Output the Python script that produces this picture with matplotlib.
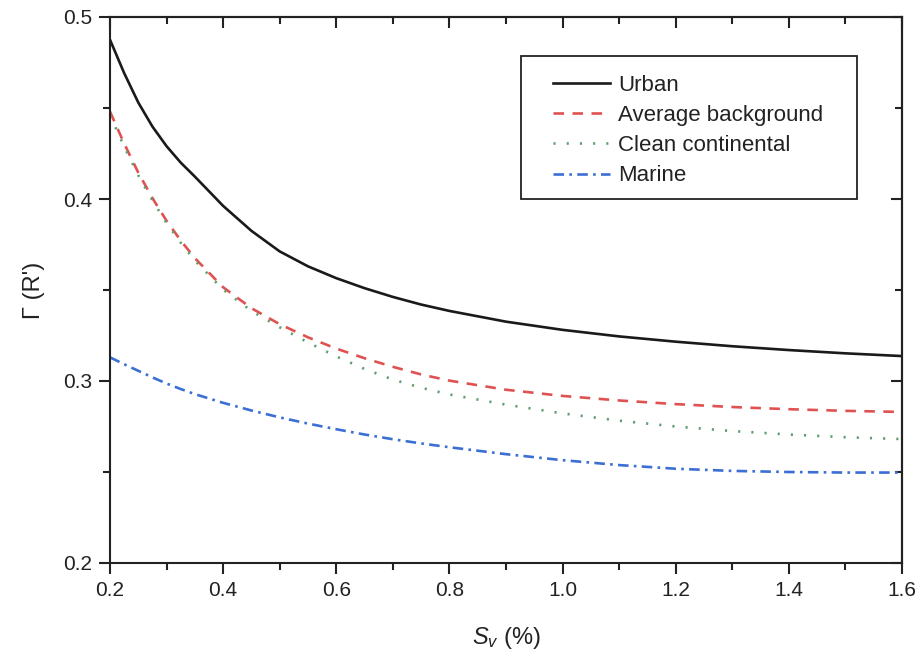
import matplotlib
matplotlib.use("Agg")
import matplotlib.pyplot as plt
from matplotlib.patches import Rectangle
from matplotlib.ticker import MultipleLocator, FormatStrFormatter

plt.rcParams['font.family'] = ['Liberation Sans', 'DejaVu Sans']
plt.rcParams['mathtext.fontset'] = 'custom'
plt.rcParams['mathtext.rm'] = 'Liberation Sans'
plt.rcParams['mathtext.it'] = 'Liberation Sans:italic'

# Supersaturation (%)
sv = [0.2, 0.225, 0.25, 0.275, 0.3, 0.325, 0.35, 0.4, 0.45, 0.5, 0.55, 0.6,
      0.65, 0.7, 0.75, 0.8, 0.9, 1.0, 1.1, 1.2, 1.3, 1.4, 1.5, 1.6]

urban = [0.4875, 0.4692, 0.4530, 0.4398, 0.4290, 0.4200, 0.4123, 0.3962,
         0.3825, 0.3712, 0.3630, 0.3565, 0.3510, 0.3462, 0.3420, 0.3385,
         0.3326, 0.3281, 0.3245, 0.3216, 0.3191, 0.3170, 0.3152, 0.3137]
average_bg = [0.448, 0.4305, 0.4145, 0.4005, 0.3880, 0.3772, 0.3675, 0.3515,
              0.3400, 0.3312, 0.3240, 0.3178, 0.3125, 0.3078, 0.3036, 0.3002,
              0.2952, 0.2918, 0.2893, 0.2873, 0.2857, 0.2845, 0.2836, 0.2830]
clean_cont = [0.446, 0.4288, 0.4130, 0.3992, 0.3868, 0.3760, 0.3662, 0.3502,
              0.3385, 0.3295, 0.3212, 0.3135, 0.3066, 0.3008, 0.2963, 0.2926,
              0.2870, 0.2822, 0.2782, 0.2750, 0.2725, 0.2706, 0.2691, 0.2681]
marine = [0.3130, 0.3092, 0.3056, 0.3020, 0.2986, 0.2956, 0.2928, 0.2880,
          0.2838, 0.2800, 0.2766, 0.2735, 0.2706, 0.2680, 0.2657, 0.2636,
          0.2598, 0.2565, 0.2538, 0.2518, 0.2506, 0.2500, 0.2497, 0.2497]

labels = ["Urban", "Average background", "Clean continental", "Marine"]

fig = plt.figure(figsize=(9.23, 6.58), dpi=100)
ax = fig.add_axes([110 / 923, 1 - 563 / 658, 792 / 923, 546 / 658])

lw = 1.9
ax.plot(sv, urban, color='#1a1a1a', lw=lw, label=labels[0])
ax.plot(sv, average_bg, color='#e05252', lw=lw, ls=(0, (4, 3.2)), label=labels[1])
ax.plot(sv, clean_cont, color='#5e9e70', lw=lw, ls=(0, (0.8, 4.2)), label=labels[2])
ax.plot(sv, marine, color='#3b6fd4', lw=lw, ls=(0, (4, 2, 1, 2)), label=labels[3])

ax.set_xlim(0.2, 1.6)
ax.set_ylim(0.2, 0.5)
ax.xaxis.set_major_locator(MultipleLocator(0.2))
ax.xaxis.set_minor_locator(MultipleLocator(0.1))
ax.yaxis.set_major_locator(MultipleLocator(0.1))
ax.yaxis.set_minor_locator(MultipleLocator(0.05))
ax.xaxis.set_major_formatter(FormatStrFormatter('%.1f'))
ax.yaxis.set_major_formatter(FormatStrFormatter('%.1f'))

for s in ax.spines.values():
    s.set_linewidth(1.5)
    s.set_color('#222222')

# outward ticks on left/bottom, inward ticks on top/right
ax.tick_params(which='both', direction='out', top=False, right=False,
               width=1.5, color='#222222', labelsize=15, labelcolor='#222222', pad=5)
ax.tick_params(which='major', length=8)
ax.tick_params(which='minor', length=5)

axt = ax.secondary_xaxis('top')
axt.xaxis.set_major_locator(MultipleLocator(0.2))
axt.xaxis.set_minor_locator(MultipleLocator(0.1))
axt.tick_params(which='both', direction='in', labeltop=False, width=1.5, color='#222222')
axt.tick_params(which='major', length=8)
axt.tick_params(which='minor', length=5)
axt.spines['top'].set_linewidth(1.5)

axr = ax.secondary_yaxis('right')
axr.yaxis.set_major_locator(MultipleLocator(0.1))
axr.yaxis.set_minor_locator(MultipleLocator(0.05))
axr.tick_params(which='both', direction='in', labelright=False, width=1.5, color='#222222')
axr.tick_params(which='major', length=8)
axr.tick_params(which='minor', length=5)
axr.spines['right'].set_linewidth(1.5)

ax.set_xlabel(r'$S_v$ (%)', fontsize=17, color='#222222', labelpad=18)
ax.set_ylabel("Γ (R')", fontsize=17, color='#222222', labelpad=13)

# legend entries without frame, boxed by a separate rectangle
leg = ax.legend(loc='upper left', bbox_to_anchor=(0.5593, 0.8938), fontsize=16,
                frameon=False, handlelength=2.57, handletextpad=0.36,
                labelspacing=0.41, borderpad=0, borderaxespad=0)
for t in leg.get_texts():
    t.set_color('#222222')
ax.add_patch(Rectangle((0.519, 0.6667), 0.4242, 0.2619, transform=ax.transAxes,
                       fill=False, edgecolor='#222222', lw=1.3, zorder=5))

fig.savefig('out.png', dpi=100)
